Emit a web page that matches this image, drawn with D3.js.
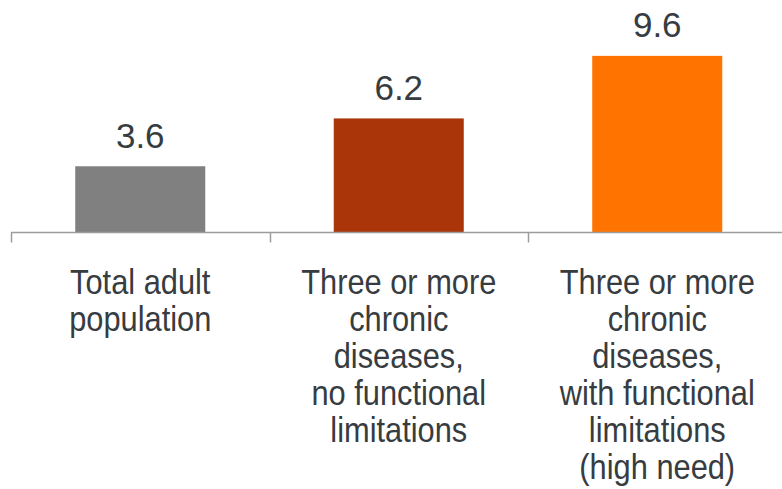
<!DOCTYPE html>
<html>
<head>
<meta charset="utf-8">
<script src="https://cdn.jsdelivr.net/npm/d3@7"></script>
<style>
  html, body { margin: 0; padding: 0; background: #ffffff; }
  svg { display: block; }
</style>
</head>
<body>
<svg id="chart" width="782" height="489"></svg>
<script>
// Values per adult group, with multi-line category labels
const categories = [
  ["Total adult", "population"],
  ["Three or more", "chronic", "diseases,", "no functional", "limitations"],
  ["Three or more", "chronic", "diseases,", "with functional", "limitations", "(high need)"]
];
const values = [3.6, 6.2, 9.6];
const barColors = ["#808080", "#AA3508", "#FF7400"];

const svg = d3.select("#chart");
const textColor = "#373c41";

const x = d3.scaleBand()
  .domain(d3.range(categories.length))
  .range([11, 786.5])
  .paddingInner(0.497)
  .paddingOuter(0.2485);

const y = d3.scaleLinear()
  .domain([0, 10])
  .range([232.5, 48.5]);

// bars
svg.append("g")
  .selectAll("rect")
  .data(values)
  .join("rect")
  .attr("x", (d, i) => x(i))
  .attr("y", d => y(d))
  .attr("width", x.bandwidth())
  .attr("height", d => y(0) - y(d))
  .attr("fill", (d, i) => barColors[i]);

// value labels above bars
svg.append("g")
  .selectAll("text")
  .data(values)
  .join("text")
  .attr("x", (d, i) => x(i) + x.bandwidth() / 2)
  .attr("y", d => y(d) - 18.5)
  .attr("text-anchor", "middle")
  .attr("font-family", "'Liberation Sans', Arial, sans-serif")
  .attr("font-size", 35)
  .attr("fill", textColor)
  .text(d => d.toFixed(1));

// category axis: baseline with ticks at band boundaries
const axisColor = "#9c9c9c";
const step = x.step();
const start = x.range()[0];
const boundaries = d3.range(categories.length + 1).map(i => start + i * step);

svg.append("line")
  .attr("x1", start).attr("x2", 782)
  .attr("y1", y(0)).attr("y2", y(0))
  .attr("stroke", axisColor)
  .attr("stroke-width", 1.5);

svg.append("g")
  .selectAll("line")
  .data(boundaries)
  .join("line")
  .attr("x1", d => Math.round(d) + 0.5)
  .attr("x2", d => Math.round(d) + 0.5)
  .attr("y1", y(0))
  .attr("y2", y(0) + 10)
  .attr("stroke", axisColor)
  .attr("stroke-width", 1.5);

// category labels (slightly condensed)
const labelG = svg.append("g")
  .attr("font-family", "'Liberation Sans', Arial, sans-serif")
  .attr("font-size", 35)
  .attr("fill", textColor)
  .attr("text-anchor", "middle");

categories.forEach((lines, i) => {
  const cx = x(i) + x.bandwidth() / 2;
  const t = labelG.append("text")
    .attr("transform", `translate(${cx},0) scale(0.88,1)`);
  lines.forEach((ln, j) => {
    t.append("tspan")
      .attr("x", 0)
      .attr("y", 294 + j * 37)
      .text(ln);
  });
});
</script>
</body>
</html>
